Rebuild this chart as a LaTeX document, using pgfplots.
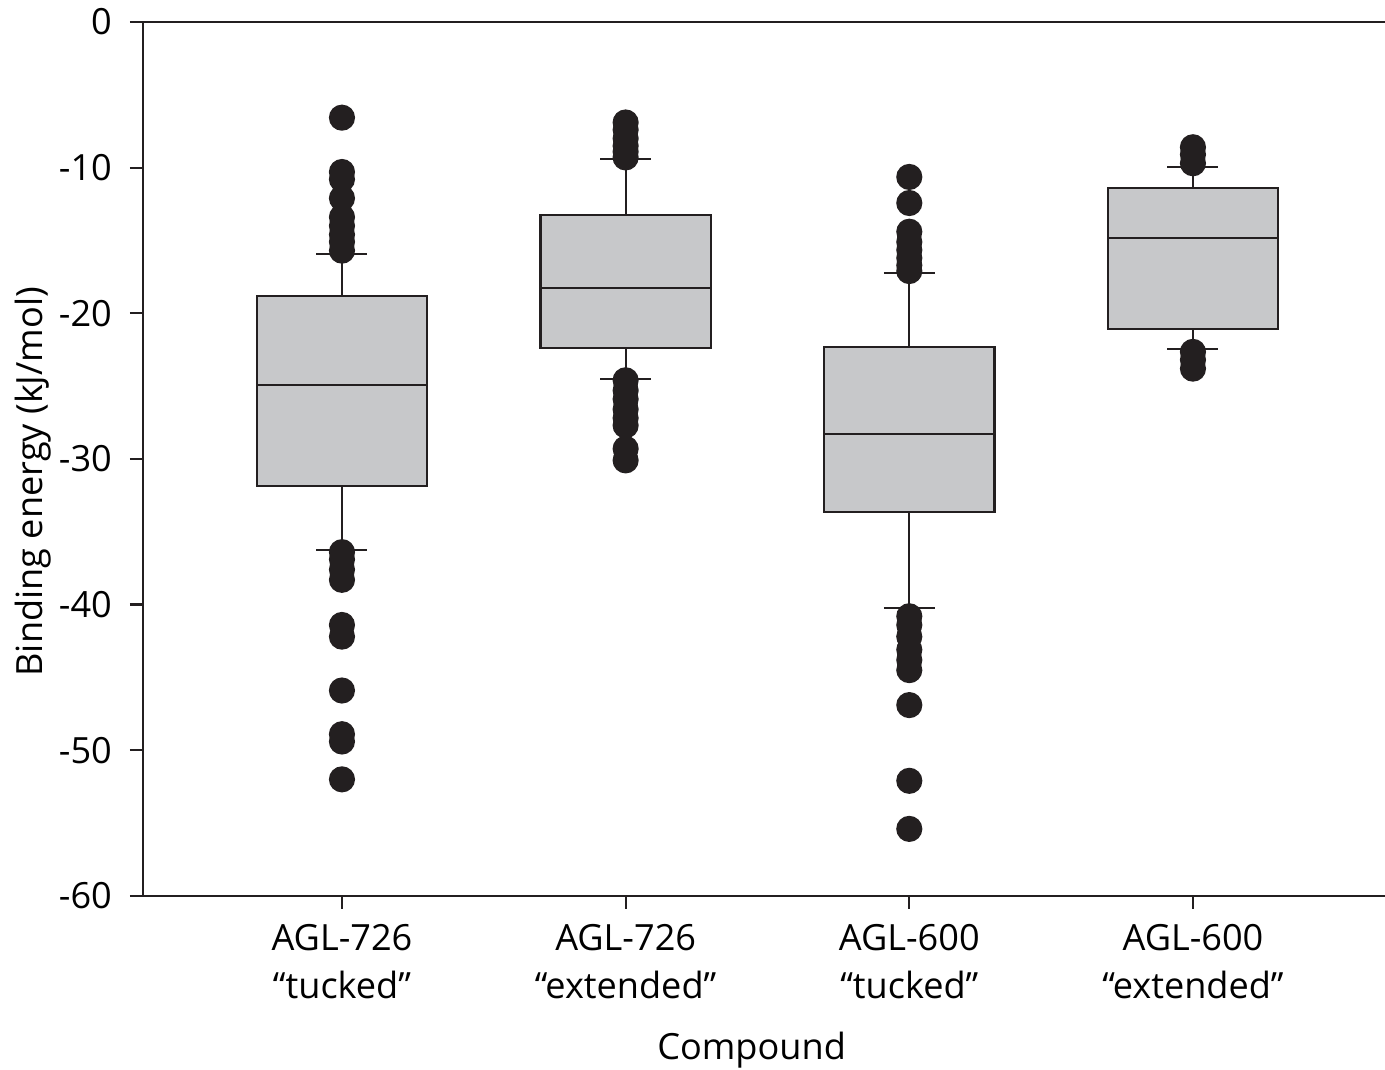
\documentclass[border=0pt]{standalone}
\usepackage{pgfplots}
\pgfplotsset{compat=1.18}
\usepgfplotslibrary{statistics}
\usepackage{fontspec}
\setmainfont{Open Sans}
\definecolor{boxgray}{RGB}{199,200,202}
\definecolor{ink}{RGB}{35,31,32}
\begin{document}
\begin{tikzpicture}[font=\fontsize{13}{17.3}\selectfont]
\begin{axis}[
  scale only axis, width=447.1pt, height=314.6pt,
  xmin=0.2986, xmax=4.677, ymin=-60, ymax=0,
  axis x line*=box, axis y line*=left,
  axis line style={line width=0.8pt, ink},
  tick style={line width=0.8pt, ink},
  tick align=outside, major tick length=4.7pt,
  xtick pos=left, ytick pos=left,
  ytick={-60,-50,...,0},
  xtick={1,2,3,4},
  xticklabels={{AGL-726\\“tucked”},{AGL-726\\“extended”},{AGL-600\\“tucked”},{AGL-600\\“extended”}},
  xticklabel style={align=center, yshift=-2pt},
  yticklabel style={xshift=-3pt},
  /pgf/number format/assume math mode=true,
  xlabel={Compound},
  ylabel={Binding energy (kJ/mol)},
  xlabel style={at={(axis description cs:0.49,0)}, anchor=north, inner sep=0pt, yshift=-49pt},
  ylabel style={at={(axis description cs:0,0.474)}, anchor=north, inner sep=0pt, yshift=46.4pt},
  boxplot/draw direction=y,
  boxplot/box extend=0.6,
  boxplot/whisker extend=0.18,
]
\pgfplotsset{bx/.style={solid, draw=ink, fill=boxgray, line width=0.8pt, mark=*, mark size=4.3pt, mark options={draw=ink, fill=ink}}}
\addplot[bx, boxplot prepared={draw position=1, median=-24.92, upper quartile=-18.81, lower quartile=-31.85, upper whisker=-15.93, lower whisker=-36.25}]
 table[row sep=\\, y index=0]{y\\-6.57\\-10.3\\-10.8\\-12.1\\-13.4\\-14.0\\-14.6\\-15.1\\-15.7\\-36.4\\-36.9\\-37.6\\-38.3\\-41.4\\-42.2\\-45.9\\-48.9\\-49.4\\-52.0\\};
\addplot[bx, boxplot prepared={draw position=2, median=-18.26, upper quartile=-13.25, lower quartile=-22.38, upper whisker=-9.40, lower whisker=-24.51}]
 table[row sep=\\, y index=0]{y\\-6.9\\-7.4\\-8.0\\-8.5\\-8.9\\-9.3\\-24.6\\-25.3\\-25.9\\-26.6\\-27.2\\-27.7\\-29.3\\-30.1\\};
\addplot[bx, boxplot prepared={draw position=3, median=-28.28, upper quartile=-22.31, lower quartile=-33.64, upper whisker=-17.23, lower whisker=-40.23}]
 table[row sep=\\, y index=0]{y\\-10.64\\-12.43\\-14.4\\-15.1\\-15.65\\-16.2\\-16.7\\-17.1\\-40.8\\-41.4\\-42.2\\-43.1\\-43.8\\-44.5\\-46.9\\-52.1\\-55.4\\};
\addplot[bx, boxplot prepared={draw position=4, median=-14.83, upper quartile=-11.40, lower quartile=-21.08, upper whisker=-9.95, lower whisker=-22.45}]
 table[row sep=\\, y index=0]{y\\-8.6\\-9.1\\-9.7\\-22.65\\-23.2\\-23.8\\};
\end{axis}
\pgfresetboundingbox
\path ([xshift=-51.48pt,yshift=-62.64pt]current axis.south west) rectangle ([yshift=7.92pt]current axis.north east);
\end{tikzpicture}
\end{document}
